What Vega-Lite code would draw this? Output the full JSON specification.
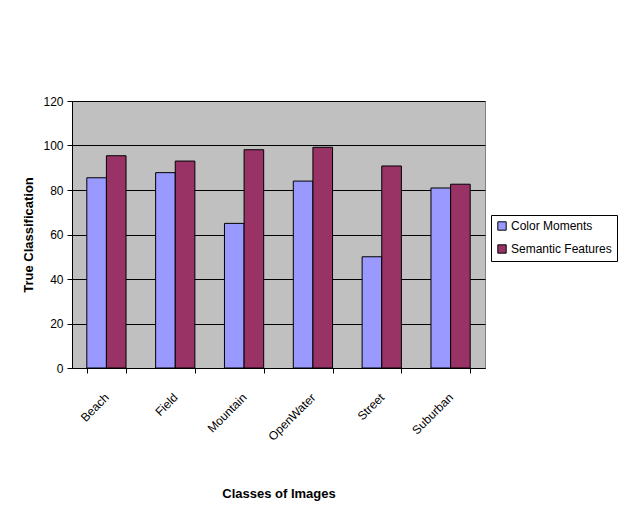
{
  "$schema": "https://vega.github.io/schema/vega-lite/v6.json",
  "autosize": "none",
  "width": 413,
  "height": 267,
  "padding": {"left": 72, "top": 101, "right": 134, "bottom": 153},
  "background": "white",
  "data": {
    "values": [
      {"cls": "Beach", "series": "Color Moments", "value": 85.5},
      {"cls": "Beach", "series": "Semantic Features", "value": 95.4},
      {"cls": "Field", "series": "Color Moments", "value": 87.8},
      {"cls": "Field", "series": "Semantic Features", "value": 93},
      {"cls": "Mountain", "series": "Color Moments", "value": 65},
      {"cls": "Mountain", "series": "Semantic Features", "value": 98.1},
      {"cls": "OpenWater", "series": "Color Moments", "value": 84},
      {"cls": "OpenWater", "series": "Semantic Features", "value": 99.2},
      {"cls": "Street", "series": "Color Moments", "value": 50},
      {"cls": "Street", "series": "Semantic Features", "value": 90.8},
      {"cls": "Suburban", "series": "Color Moments", "value": 80.9},
      {"cls": "Suburban", "series": "Semantic Features", "value": 82.6}
    ]
  },
  "config": {
    "font": "Liberation Sans",
    "view": {"fill": "#C0C0C0", "stroke": "#808080", "strokeWidth": 1}
  },
  "mark": {"type": "bar", "stroke": "black", "strokeWidth": 1},
  "encoding": {
    "x": {
      "field": "cls",
      "type": "nominal",
      "sort": null,
      "scale": {"paddingInner": 0.43, "paddingOuter": 0.215},
      "axis": {
        "title": "Classes of Images",
        "titleFontSize": 13,
        "titleFontWeight": "bold",
        "titleColor": "black",
        "titlePadding": 45,
        "labelAngle": -45,
        "labelAlign": "right",
        "labelBaseline": "middle",
        "labelFontSize": 12,
        "labelColor": "black",
        "labelPadding": 22,
        "domainColor": "black",
        "tickColor": "black",
        "tickBand": "extent",
        "tickSize": 5,
        "grid": false
      }
    },
    "xOffset": {"field": "series", "type": "nominal", "scale": {"paddingInner": 0, "paddingOuter": 0}},
    "y": {
      "field": "value",
      "type": "quantitative",
      "scale": {"domain": [0, 120], "nice": false},
      "axis": {
        "title": "True Classification",
        "titleFontSize": 13,
        "titleFontWeight": "bold",
        "titleColor": "black",
        "titlePadding": 7,
        "values": [0, 20, 40, 60, 80, 100, 120],
        "labelFontSize": 12,
        "labelColor": "black",
        "labelPadding": 4,
        "domainColor": "black",
        "tickColor": "black",
        "tickSize": 5,
        "grid": true,
        "gridColor": "black",
        "gridWidth": 1
      }
    },
    "color": {
      "field": "series",
      "type": "nominal",
      "scale": {"domain": ["Color Moments", "Semantic Features"], "range": ["#9999FF", "#993366"]},
      "legend": {
        "title": null,
        "orient": "none",
        "legendX": 419,
        "legendY": 114,
        "symbolType": "square",
        "symbolSize": 70,
        "symbolStrokeColor": "black",
        "symbolStrokeWidth": 1,
        "labelFontSize": 12,
        "labelColor": "black",
        "labelOffset": 3,
        "rowPadding": 9,
        "padding": 5,
        "strokeColor": "black",
        "fillColor": "white"
      }
    }
  }
}
